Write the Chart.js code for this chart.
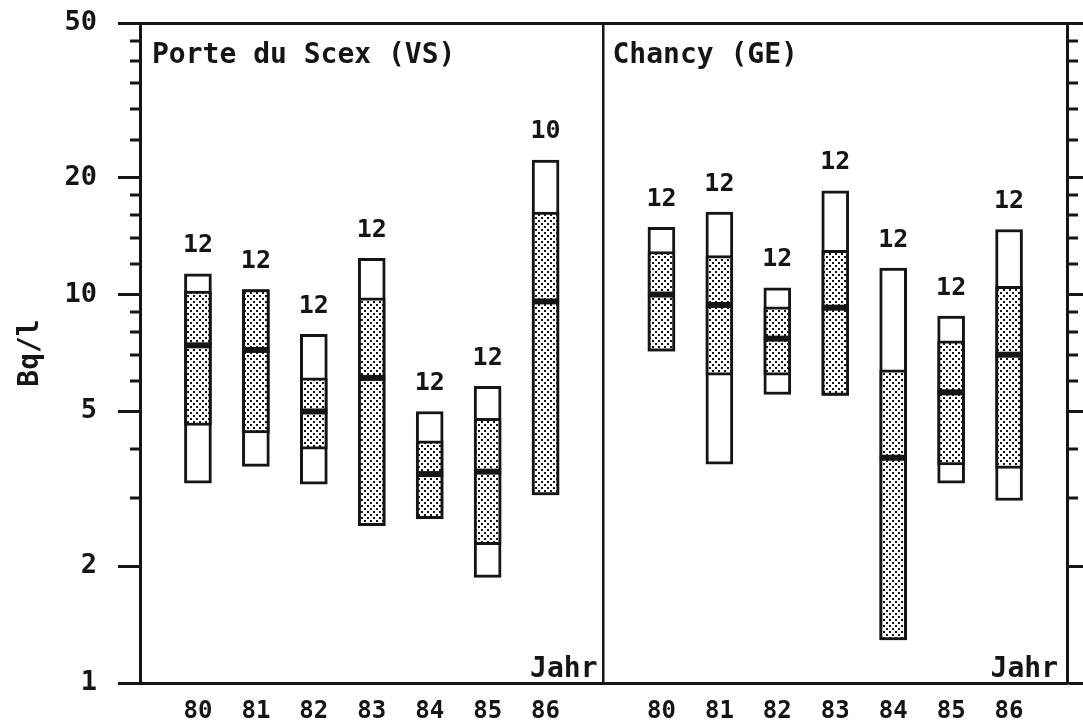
<!DOCTYPE html>
<html>
<head>
<meta charset="utf-8">
<script src="https://cdn.jsdelivr.net/npm/chart.js@4.4.1/dist/chart.umd.min.js"></script>
<style>
  html, body { margin: 0; padding: 0; background: #ffffff; }
  #wrap { width: 1083px; height: 724px; position: relative; }
</style>
</head>
<body>
<div id="wrap"><canvas id="c" width="1083" height="724"></canvas></div>
<script>
// ---- data (Bq/l) ----
const years = ['80', '81', '82', '83', '84', '85', '86'];

const scexMax = [11.3, 10.3, 7.9, 12.4, 5.0, 5.8, 22.2];
const scexHi  = [10.2, 10.3, 6.1, 9.8, 4.2, 4.8, 16.3];
const scexMed = [7.4, 7.2, 5.0, 6.1, 3.45, 3.5, 9.6];
const scexLo  = [4.6, 4.4, 4.0, 2.54, 2.65, 2.27, 3.05];
const scexMin = [3.27, 3.61, 3.25, 2.54, 2.65, 1.87, 3.05];
const scexN   = [12, 12, 12, 12, 12, 12, 10];

const chancyMax = [14.9, 16.3, 10.4, 18.5, 11.7, 8.8, 14.7];
const chancyHi  = [12.9, 12.6, 9.3, 13.0, 6.4, 7.6, 10.5];
const chancyMed = [10.0, 9.4, 7.7, 9.25, 3.8, 5.6, 7.0];
const chancyLo  = [7.15, 6.2, 6.2, 5.5, 1.29, 3.64, 3.57];
const chancyMin = [7.15, 3.66, 5.53, 5.5, 1.29, 3.27, 2.95];
const chancyN   = [12, 12, 12, 12, 12, 12, 12];

const majorTicks = [1, 2, 5, 10, 20, 50];
const minorTicks = [3, 4, 6, 7, 8, 9, 12, 14, 16, 18, 25, 30, 35, 40, 45];
const panelTitles = ['Porte du Scex (VS)', 'Chancy (GE)'];
const yTitle = 'Bq/l';
const xTitle = 'Jahr';

// ---- build chart tables ----
const FONT = "'DejaVu Sans Mono', 'Liberation Mono', monospace";
const INK = '#151515';
const labels = ['', ...years, '', ...years, ''];
const pad = (a, b) => [null, ...a, null, ...b, null];
const pair = (lo, hi) => lo.map((v, i) => [v, hi[i]]);

// stipple pattern
const pc = document.createElement('canvas');
pc.width = 6; pc.height = 6;
const pctx = pc.getContext('2d');
pctx.fillStyle = '#ffffff'; pctx.fillRect(0, 0, 6, 6);
pctx.fillStyle = INK;
pctx.fillRect(1, 1, 2, 2);
pctx.fillRect(4, 4, 2, 2);
const stipple = document.getElementById('c').getContext('2d').createPattern(pc, 'repeat');

const annot = {
  id: 'annot',
  afterDraw(chart) {
    const { ctx, chartArea: a, scales: { x, y } } = chart;
    ctx.save();
    ctx.strokeStyle = INK;
    ctx.lineWidth = 3;
    minorTicks.forEach(v => {
      const py = Math.round(y.getPixelForValue(v));
      ctx.beginPath();
      ctx.moveTo(a.left - 10, py); ctx.lineTo(a.left, py);
      ctx.moveTo(a.right, py); ctx.lineTo(a.right + 11, py);
      ctx.stroke();
    });
    ctx.fillStyle = INK;
    ctx.font = `bold 25px ${FONT}`;
    ctx.textAlign = 'center';
    ctx.textBaseline = 'middle';
    const maxAll = pad(scexMax, chancyMax);
    const nAll = pad(scexN, chancyN);
    nAll.forEach((n, i) => {
      if (n == null) return;
      ctx.fillText(String(n), x.getPixelForValue(i), y.getPixelForValue(maxAll[i]) - 28);
    });
    const mid = x.getPixelForValue(8);
    ctx.font = `bold 28px ${FONT}`;
    ctx.textAlign = 'left';
    ctx.textBaseline = 'alphabetic';
    ctx.fillText(panelTitles[0], a.left + 12, a.top + 40);
    ctx.fillText(panelTitles[1], mid + 9, a.top + 40);
    ctx.textAlign = 'right';
    ctx.fillText(xTitle, mid - 6, a.bottom - 6);
    ctx.fillText(xTitle, a.right - 9, a.bottom - 6);
    ctx.restore();
  }
};

const majorOnly = s => { s.ticks = majorTicks.map(v => ({ value: v, major: true })); };

new Chart(document.getElementById('c'), {
  type: 'bar',
  data: {
    labels,
    datasets: [
      {
        type: 'line', label: 'Median', data: pad(scexMed, chancyMed),
        showLine: false, pointStyle: 'line', pointRadius: 13.5, pointHoverRadius: 13.5,
        pointBorderWidth: 6, borderColor: INK, backgroundColor: INK, order: 0, clip: false
      },
      {
        type: 'bar', label: 'Quantile', data: pad(pair(scexLo, scexHi), pair(chancyLo, chancyHi)),
        backgroundColor: stipple, borderColor: INK, borderWidth: 3, borderSkipped: false,
        barThickness: 27, grouped: false, order: 1
      },
      {
        type: 'bar', label: 'Bereich', data: pad(pair(scexMin, scexMax), pair(chancyMin, chancyMax)),
        backgroundColor: '#ffffff', borderColor: INK, borderWidth: 3, borderSkipped: false,
        barThickness: 27, grouped: false, order: 2
      }
    ]
  },
  options: {
    responsive: false,
    animation: false,
    events: [],
    layout: { autoPadding: false, padding: { top: 23, left: 0, right: 0, bottom: 0 } },
    plugins: { legend: { display: false }, tooltip: { enabled: false }, title: { display: false } },
    scales: {
      x: {
        type: 'category', offset: false,
        grid: {
          offset: false, drawOnChartArea: true, drawTicks: false, lineWidth: 2.5,
          color: c => (c.index === 8 ? INK : 'rgba(0,0,0,0)')
        },
        border: { display: true, color: INK, width: 3 },
        ticks: {
          autoSkip: false, maxRotation: 0, minRotation: 0, padding: 14, color: INK,
          font: { family: FONT, size: 24, weight: 'bold' }
        },
        afterFit: s => { s.height = 41; s.paddingLeft = 0; s.paddingRight = 0; }
      },
      y: {
        type: 'logarithmic', position: 'left', min: 1, max: 50,
        afterBuildTicks: majorOnly,
        grid: {
          drawOnChartArea: true, lineWidth: 3, tickLength: 22, tickWidth: 3, tickColor: INK,
          color: c => (c.tick && (c.tick.value === 50 || c.tick.value === 1) ? INK : 'rgba(0,0,0,0)')
        },
        border: { display: true, color: INK, width: 3 },
        ticks: {
          padding: 21, color: INK, callback: v => String(v),
          font: { family: FONT, size: 27, weight: 'bold' }
        },
        title: {
          display: true, text: yTitle, color: INK, padding: { top: 14, bottom: 0 },
          font: { family: FONT, size: 28, weight: 'bold' }
        },
        afterFit: s => { s.width = 140; s.paddingTop = 0; s.paddingBottom = 0; }
      },
      yR: {
        type: 'logarithmic', position: 'right', min: 1, max: 50,
        afterBuildTicks: majorOnly,
        grid: { drawOnChartArea: false, tickLength: 16, tickWidth: 3, tickColor: INK },
        border: { display: true, color: INK, width: 3 },
        ticks: { display: false },
        afterFit: s => { s.width = 16; s.paddingTop = 0; s.paddingBottom = 0; }
      }
    }
  },
  plugins: [annot]
});
</script>
</body>
</html>
